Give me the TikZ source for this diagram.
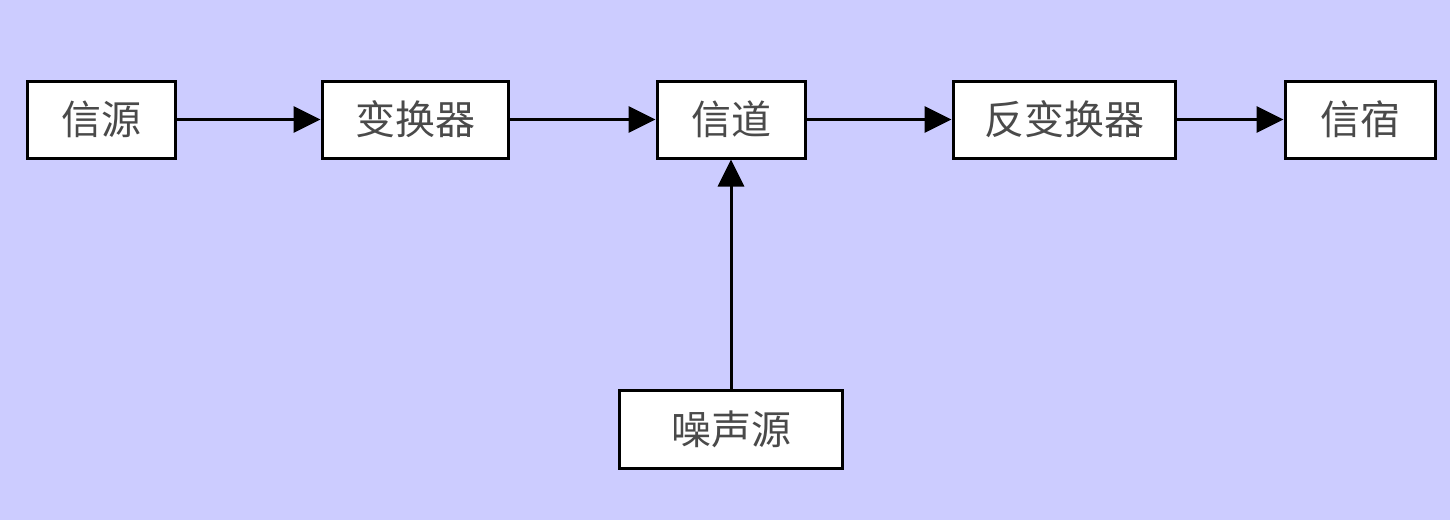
\documentclass[tikz,border=0pt]{standalone}
\usepackage{fontspec}
\newfontfamily\cjk{Noto Sans CJK SC}[FakeStretch=1]
\usetikzlibrary{arrows.meta}
\definecolor{bgcol}{HTML}{CCCCFF}
\definecolor{txtcol}{HTML}{4A4A4A}
\begin{document}
\begin{tikzpicture}[x=1pt,y=-1pt,
  blk/.style={draw=black,line width=3pt,fill=white,minimum height=77pt,inner sep=0pt,
    font=\cjk\fontsize{40}{44}\selectfont\color{txtcol}},
  conn/.style={line width=3pt,-{Triangle[length=27pt,width=26pt]}}]
\fill[bgcol] (0,0) rectangle (1450,520);
\useasboundingbox (0,0) rectangle (1450,520);
\node[blk,minimum width=148pt] (src) at (101,119.5) {信源};
\node[blk,minimum width=186pt] (enc) at (415,119.5) {变换器};
\node[blk,minimum width=148pt] (ch) at (731,119.5) {信道};
\node[blk,minimum width=222pt] (dec) at (1064,119.5) {反变换器};
\node[blk,minimum width=150pt] (dst) at (1360,119.5) {信宿};
\node[blk,minimum width=223pt,minimum height=78pt] (noise) at (731,429) {噪声源};
\draw[conn] (src) -- (enc);
\draw[conn] (enc) -- (ch);
\draw[conn] (ch) -- (dec);
\draw[conn] (dec) -- (dst);
\draw[conn] (noise) -- (ch);
\end{tikzpicture}
\end{document}
